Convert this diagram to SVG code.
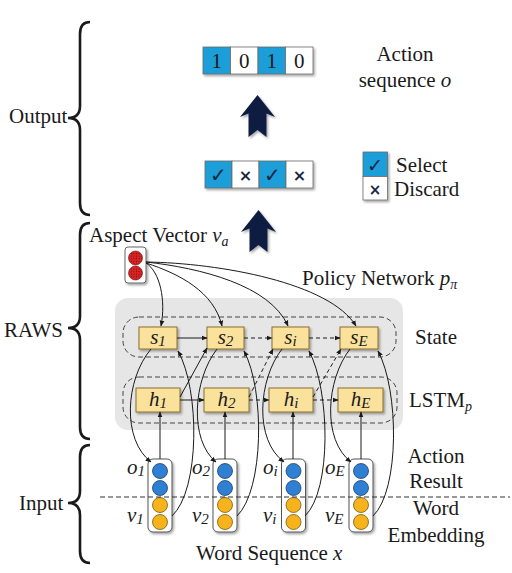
<svg xmlns="http://www.w3.org/2000/svg" width="512" height="573" viewBox="0 0 512 573">
<style>
text{font-family:"Liberation Serif","Times New Roman",serif;fill:#1a1a1a}
.t20{font-size:21px}
.it{font-style:italic}
.brace{fill:none;stroke:#1a1a1a;stroke-width:2.6}
.cell{stroke:#6a6a6a;stroke-width:0.8}
.blue{fill:#1a9fd8}
.white{fill:#ffffff}
.ybox{fill:#fbe29c;stroke:#8a6f2e;stroke-width:1}
.col{fill:#ffffff;stroke:#555;stroke-width:1}
.cb{fill:#2f7fd3;stroke:#1f3f70;stroke-width:0.8}
.co{fill:#f6b31c;stroke:#7a5a10;stroke-width:0.8}
.ln{fill:none;stroke:#1a1a1a;stroke-width:1}
.dash{stroke-dasharray:4 3}
.frame{fill:none;stroke:#444;stroke-width:1;stroke-dasharray:5 3}
.bigarrow{fill:#0e1f40}
.sym{font-family:"DejaVu Sans",sans-serif;fill:#1a2540}
</style>
<defs>
<marker id="ah" viewBox="0 0 10 10" refX="9" refY="5" markerWidth="6" markerHeight="6" orient="auto-start-reverse" markerUnits="userSpaceOnUse">
<path d="M0,1 L10,5 L0,9 Z" fill="#1a1a1a"/>
</marker>
<filter id="sh" x="-20%" y="-20%" width="150%" height="160%">
<feDropShadow dx="1.5" dy="1.8" stdDeviation="1" flood-color="#000" flood-opacity="0.35"/>
</filter>
<pattern id="dots" width="2.6" height="2.6" patternUnits="userSpaceOnUse">
<rect width="2.6" height="2.6" fill="#d82525"/>
<circle cx="1.3" cy="1.3" r="0.6" fill="#7a0a0a"/>
</pattern>
</defs>

<!-- braces -->
<g id="brace-output">
<path class="brace" d="M90,22 C83,22 80,26 80,34 L80,106 C80,114 76,118 68,118 C76,118 80,122 80,130 L80,203 C80,211 83,215 90,215"/>
<text class="t20" x="9" y="123">Output</text>
</g>
<g id="brace-raws">
<path class="brace" d="M90,223 C83,223 80,227 80,235 L80,316 C80,324 76,328 68,328 C76,328 80,332 80,340 L80,427 C80,435 83,439 90,439"/>
<text class="t20" x="4" y="337">RAWS</text>
</g>
<g id="brace-input">
<path class="brace" d="M90,445 C83,445 80,449 80,457 L80,491 C80,499 76,503 68,503 C76,503 80,507 80,515 L80,551 C80,559 83,563 90,563"/>
<text class="t20" x="19" y="510">Input</text>
</g>

<!-- action sequence -->
<g id="action-seq" filter="url(#sh)">
<rect class="cell blue" x="203" y="47" width="27.5" height="27"/>
<rect class="cell white" x="230.5" y="47" width="27.5" height="27"/>
<rect class="cell blue" x="258" y="47" width="27.5" height="27"/>
<rect class="cell white" x="285.5" y="47" width="27.5" height="27"/>
</g>
<g id="action-seq-text">
<text class="t20" x="216.8" y="68" text-anchor="middle">1</text>
<text class="t20" x="244.3" y="68" text-anchor="middle">0</text>
<text class="t20" x="271.8" y="68" text-anchor="middle">1</text>
<text class="t20" x="299.3" y="68" text-anchor="middle">0</text>
<text class="t20" x="405" y="61" text-anchor="middle">Action</text>
<text class="t20" x="405" y="87" text-anchor="middle">sequence <tspan class="it">o</tspan></text>
</g>

<!-- big arrows -->
<g id="arrow-top" filter="url(#sh)">
<path class="bigarrow" d="M257.5,95 L275,117 L266.5,113.5 L266.5,137 L257.5,130 L248.5,137 L248.5,113.5 L240,117 Z"/>
</g>
<g id="arrow-bottom" filter="url(#sh)">
<path class="bigarrow" d="M258.5,210 L276,232 L267.5,228.5 L267.5,252 L258.5,245 L249.5,252 L249.5,228.5 L241,232 Z"/>
</g>

<!-- select/discard row -->
<g id="select-row" filter="url(#sh)">
<rect class="cell blue" x="205" y="161" width="27" height="27"/>
<rect class="cell white" x="232" y="161" width="27" height="27"/>
<rect class="cell blue" x="259" y="161" width="27" height="27"/>
<rect class="cell white" x="286" y="161" width="27" height="27"/>
</g>
<g id="select-row-marks">
<text class="sym" x="218.5" y="182" font-size="20" text-anchor="middle">✓</text>
<text class="sym" x="245.5" y="180.5" font-size="16" font-weight="bold" text-anchor="middle">×</text>
<text class="sym" x="272.5" y="182" font-size="20" text-anchor="middle">✓</text>
<text class="sym" x="299.5" y="180.5" font-size="16" font-weight="bold" text-anchor="middle">×</text>
</g>

<!-- legend -->
<g id="legend">
<rect class="cell blue" x="363" y="152" width="24.5" height="24.5" filter="url(#sh)"/>
<rect class="cell white" x="363" y="176.5" width="24.5" height="23.5" filter="url(#sh)"/>
<text class="sym" x="375" y="172" font-size="19" text-anchor="middle">✓</text>
<text class="sym" x="375" y="194.5" font-size="15" font-weight="bold" text-anchor="middle">×</text>
<text class="t20" x="396" y="172">Select</text>
<text class="t20" x="394" y="196">Discard</text>
</g>

<!-- aspect vector -->
<g id="aspect-vector">
<text class="t20" x="89" y="242">Aspect Vector <tspan class="it">v</tspan><tspan class="it" font-size="14" dy="4">a</tspan></text>
<rect x="125" y="247" width="21" height="36" rx="3" fill="#fff" stroke="#666" stroke-width="1" filter="url(#sh)"/>
<circle cx="135.5" cy="258" r="7" fill="url(#dots)" stroke="#7a1010" stroke-width="0.6"/>
<circle cx="135.5" cy="273" r="7" fill="url(#dots)" stroke="#7a1010" stroke-width="0.6"/>
</g>

<text class="t20" x="302" y="285">Policy Network <tspan class="it">p</tspan><tspan class="it" font-size="14" dy="4">π</tspan></text>

<!-- panel -->
<g id="policy-panel">
<rect x="115" y="298" width="288" height="132" rx="13" fill="#e6e6e6"/>
<rect class="frame" x="123" y="317" width="273" height="40" rx="16"/>
<rect class="frame" x="123" y="377" width="274" height="46" rx="16"/>
</g>
<text class="t20" x="415" y="344">State</text>
<text class="t20" x="409" y="407">LSTM<tspan class="it" font-size="14" dy="4">p</tspan></text>

<!-- state nodes -->
<g id="s1"><rect class="ybox" x="139" y="327" width="38" height="22" filter="url(#sh)"/><text class="t20 it" x="158" y="344" text-anchor="middle">s<tspan font-size="15" dy="2">1</tspan></text></g>
<g id="s2"><rect class="ybox" x="207" y="327" width="37" height="22" filter="url(#sh)"/><text class="t20 it" x="225.5" y="344" text-anchor="middle">s<tspan font-size="15" dy="2">2</tspan></text></g>
<g id="si"><rect class="ybox" x="272" y="327" width="37" height="22" filter="url(#sh)"/><text class="t20 it" x="290.5" y="344" text-anchor="middle">s<tspan font-size="15" dy="2">i</tspan></text></g>
<g id="sE"><rect class="ybox" x="340" y="327" width="38" height="22" filter="url(#sh)"/><text class="t20 it" x="359" y="344" text-anchor="middle">s<tspan font-size="15" dy="2">E</tspan></text></g>

<!-- lstm nodes -->
<g id="h1"><rect class="ybox" x="136" y="388" width="44" height="24" filter="url(#sh)"/><text class="t20 it" x="158" y="406" text-anchor="middle">h<tspan font-size="15" dy="2">1</tspan></text></g>
<g id="h2"><rect class="ybox" x="204" y="388" width="45" height="24" filter="url(#sh)"/><text class="t20 it" x="226.5" y="406" text-anchor="middle">h<tspan font-size="15" dy="2">2</tspan></text></g>
<g id="hi"><rect class="ybox" x="269" y="388" width="44" height="24" filter="url(#sh)"/><text class="t20 it" x="291" y="406" text-anchor="middle">h<tspan font-size="15" dy="2">i</tspan></text></g>
<g id="hE"><rect class="ybox" x="338" y="388" width="45" height="24" filter="url(#sh)"/><text class="t20 it" x="360.5" y="406" text-anchor="middle">h<tspan font-size="15" dy="2">E</tspan></text></g>

<!-- word columns -->
<g id="w1">
<rect class="col" x="148" y="459" width="24" height="73" rx="5" filter="url(#sh)"/>
<circle class="cb" cx="160" cy="471" r="7.5"/><circle class="cb" cx="160" cy="488" r="7.5"/>
<circle class="co" cx="160" cy="505" r="7.5"/><circle class="co" cx="160" cy="522" r="7.5"/>
<text class="t20 it" x="127" y="474">o<tspan font-size="15" dy="2">1</tspan></text>
<text class="t20 it" x="127" y="522">v<tspan font-size="15" dy="2">1</tspan></text>
</g>
<g id="w2">
<rect class="col" x="213" y="459" width="24" height="73" rx="5" filter="url(#sh)"/>
<circle class="cb" cx="225" cy="471" r="7.5"/><circle class="cb" cx="225" cy="488" r="7.5"/>
<circle class="co" cx="225" cy="505" r="7.5"/><circle class="co" cx="225" cy="522" r="7.5"/>
<text class="t20 it" x="192" y="474">o<tspan font-size="15" dy="2">2</tspan></text>
<text class="t20 it" x="192" y="522">v<tspan font-size="15" dy="2">2</tspan></text>
</g>
<g id="wi">
<rect class="col" x="281.5" y="459" width="24" height="73" rx="5" filter="url(#sh)"/>
<circle class="cb" cx="293.5" cy="471" r="7.5"/><circle class="cb" cx="293.5" cy="488" r="7.5"/>
<circle class="co" cx="293.5" cy="505" r="7.5"/><circle class="co" cx="293.5" cy="522" r="7.5"/>
<text class="t20 it" x="263" y="474">o<tspan font-size="15" dy="2">i</tspan></text>
<text class="t20 it" x="263" y="522">v<tspan font-size="15" dy="2">i</tspan></text>
</g>
<g id="wE">
<rect class="col" x="349" y="459" width="24" height="73" rx="5" filter="url(#sh)"/>
<circle class="cb" cx="361" cy="471" r="7.5"/><circle class="cb" cx="361" cy="488" r="7.5"/>
<circle class="co" cx="361" cy="505" r="7.5"/><circle class="co" cx="361" cy="522" r="7.5"/>
<text class="t20 it" x="325" y="474">o<tspan font-size="15" dy="2">E</tspan></text>
<text class="t20 it" x="325" y="522">v<tspan font-size="15" dy="2">E</tspan></text>
</g>

<line x1="100" y1="497" x2="510" y2="497" stroke="#333" stroke-width="1.2" stroke-dasharray="5 3"/>

<g id="side-labels">
<text class="t20" x="436" y="463" text-anchor="middle">Action</text>
<text class="t20" x="436" y="488" text-anchor="middle">Result</text>
<text class="t20" x="436" y="515" text-anchor="middle">Word</text>
<text class="t20" x="436" y="542" text-anchor="middle">Embedding</text>
<text class="t20" x="196" y="560">Word Sequence  <tspan class="it">x</tspan></text>
</g>

<!-- connectors -->
<g id="connectors" marker-end="url(#ah)">
<!-- aspect vector to states -->
<path class="ln" d="M146,263 C160,272 166,300 161,326"/>
<path class="ln" d="M146,263 C180,274 214,292 222,326"/>
<path class="ln" d="M146,262 C200,268 270,285 288,326"/>
<path class="ln" d="M146,262 C220,263 330,283 356,326"/>
<!-- state chain -->
<path class="ln" d="M177,338 L207,338"/>
<path class="ln dash" d="M244,338 L272,338"/>
<path class="ln dash" d="M309,338 L340,338"/>
<!-- lstm chain -->
<path class="ln" d="M180,400 L204,400"/>
<path class="ln dash" d="M249,400 L269,400"/>
<path class="ln dash" d="M313,400 L338,400"/>
<!-- h to next s -->
<path class="ln" d="M180,397 L207,348"/>
<path class="ln dash" d="M249,397 L273,349"/>
<path class="ln dash" d="M313,397 L341,349"/>
<!-- word vectors to h -->
<path class="ln" d="M160,459 L160,412"/>
<path class="ln" d="M225,459 L225,412"/>
<path class="ln" d="M293,459 L293,412"/>
<path class="ln" d="M361,459 L361,412"/>
<!-- s to o -->
<path class="ln" d="M151,349 C125,380 122,440 151,462"/>
<path class="ln" d="M217,349 C193,380 189,440 216,462"/>
<path class="ln" d="M282,349 C258,380 254,440 284,462"/>
<path class="ln" d="M350,349 C326,380 322,440 351,462"/>
<!-- v to s -->
<path class="ln" d="M172,516 C200,490 200,390 178,351"/>
<path class="ln" d="M237,516 C264,490 265,390 244,351"/>
<path class="ln" d="M305,516 C332,490 330,390 309,351"/>
<path class="ln" d="M373,516 C400,490 399,390 378,351"/>
</g>
</svg>
